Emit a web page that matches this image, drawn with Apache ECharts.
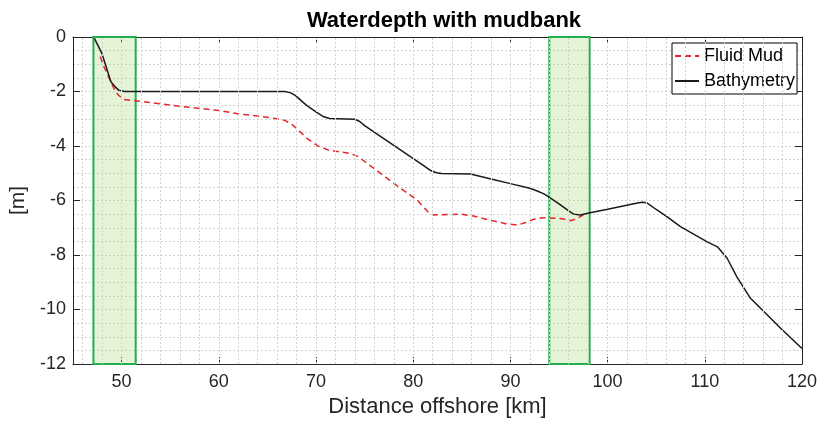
<!DOCTYPE html>
<html>
<head>
<meta charset="utf-8">
<script src="https://cdn.jsdelivr.net/npm/echarts@6/dist/echarts.min.js"></script>
<style>html,body{margin:0;padding:0;background:#fff}#c{width:820px;height:423px}</style>
</head>
<body>
<div id="c"></div>
<script>
// ---- data ----
var bathyX = [47.2, 47.95, 48.9, 49.4, 49.7, 50.3, 66.8, 67.4, 67.9, 69.0, 70.0, 70.8, 71.4, 74.0, 74.5, 75.0, 78.0, 81.0, 81.8, 82.4, 82.9, 85.9, 88.0, 90.0, 92.0, 92.7, 93.4, 93.9, 95.0, 96.0, 96.5, 97.2, 98.2, 100.0, 103.2, 103.6, 104.0, 105.0, 106.1, 107.5, 110.2, 111.3, 112.3, 113.3, 114.7, 116.1, 117.8, 120.0];
var bathyY = [-0.05, -0.58, -1.64, -1.85, -1.95, -2.0, -2.0, -2.05, -2.15, -2.5, -2.75, -2.93, -2.99, -3.02, -3.1, -3.25, -3.98, -4.7, -4.9, -4.98, -5.01, -5.03, -5.21, -5.38, -5.55, -5.64, -5.75, -5.86, -6.12, -6.38, -6.5, -6.53, -6.45, -6.32, -6.08, -6.06, -6.08, -6.33, -6.59, -6.96, -7.51, -7.7, -8.12, -8.8, -9.59, -10.08, -10.69, -11.43];
var mudX = [47.8, 48.2, 48.8, 49.3, 49.66, 50.2, 51.4, 55.0, 60.0, 62.2, 64.0, 66.0, 66.8, 67.5, 68.0, 69.0, 70.2, 71.3, 73.5, 74.3, 75.5, 77.0, 78.5, 80.4, 81.6, 82.1, 84.85, 86.2, 87.9, 89.5, 90.7, 91.5, 92.4, 93.4, 94.8, 95.5, 96.2, 96.8, 97.5];
var mudY = [-0.72, -1.1, -1.58, -1.95, -2.13, -2.29, -2.34, -2.5, -2.7, -2.83, -2.9, -3.0, -3.06, -3.2, -3.35, -3.7, -4.0, -4.15, -4.27, -4.38, -4.7, -5.1, -5.5, -5.98, -6.45, -6.53, -6.5, -6.57, -6.72, -6.85, -6.9, -6.82, -6.69, -6.63, -6.65, -6.68, -6.74, -6.67, -6.53];
var zones = [[47.1, 51.45], [94.0, 98.15]];
var xTickLabels = [50, 60, 70, 80, 90, 100, 110, 120];
var xGridValues = [46,48,50,52,54,56,58,60,62,64,66,68,70,72,74,76,78,80,82,84,86,88,90,92,94,96,98,100,102,104,106,108,110,112,114,116,118];
var seriesNames = ['Fluid Mud', 'Bathymetry'];
var titleText = 'Waterdepth with mudbank';
var xName = 'Distance offshore [km]';
var yName = '[m]';

function zip(a, b) { return a.map(function (v, i) { return [v, b[i]]; }); }

var FONT = "'Liberation Sans', Arial, Helvetica, sans-serif";
var AX = '#262626';
var GRID = { color: '#d2d2d2', width: 1, type: [2, 2] };

var chart = echarts.init(document.getElementById('c'), null, { renderer: 'canvas' });
chart.setOption({
  animation: false,
  backgroundColor: '#fff',
  textStyle: { fontFamily: FONT },
  title: {
    text: titleText, left: 439, top: 5, textAlign: 'center',
    textStyle: { fontFamily: FONT, fontSize: 22, fontWeight: 'bold', color: '#000' }
  },
  grid: { left: 73, right: 18, top: 37, bottom: 59, containLabel: false, outerBoundsMode: 'none' },
  legend: {
    data: seriesNames,
    orient: 'vertical', left: 672, top: 43,
    padding: [2, 2, 2, 2], itemGap: 3, itemWidth: 24, itemHeight: 14,
    borderColor: '#000', borderWidth: 1, backgroundColor: '#fff',
    itemStyle: { opacity: 0 },
    textStyle: { fontFamily: FONT, fontSize: 18, color: '#000', lineHeight: 22 }
  },
  xAxis: [
    {
      type: 'value', min: 45, max: 120, position: 'bottom',
      name: xName, nameLocation: 'middle', nameGap: 32,
      nameTextStyle: { fontFamily: FONT, fontSize: 22, color: '#262626' },
      axisLine: { show: true, onZero: false, lineStyle: { color: AX, width: 1 } },
      axisTick: { show: true, inside: true, length: 7, customValues: xTickLabels, lineStyle: { color: AX } },
      axisLabel: { show: true, margin: 9, customValues: xTickLabels, fontFamily: FONT, fontSize: 18, color: '#262626' },
      splitLine: { show: false }
    },
    { // top box axis
      type: 'value', min: 45, max: 120, position: 'top',
      axisLine: { show: true, onZero: false, lineStyle: { color: AX, width: 1 } },
      axisTick: { show: true, inside: true, length: 7, customValues: xTickLabels, lineStyle: { color: AX } },
      axisLabel: { show: false },
      splitLine: { show: false }
    }
  ],
  yAxis: [
    {
      type: 'value', min: -12, max: 0, interval: 2, position: 'left',
      name: yName, nameLocation: 'middle', nameGap: 40,
      nameTextStyle: { fontFamily: FONT, fontSize: 21, color: '#262626' },
      axisLine: { show: true, onZero: false, lineStyle: { color: AX, width: 1 } },
      axisTick: { show: true, inside: true, length: 7, lineStyle: { color: AX } },
      axisLabel: { show: true, margin: 7, fontFamily: FONT, fontSize: 18, color: '#262626' },
      splitLine: { show: true, lineStyle: GRID },
      minorTick: { show: false, splitNumber: 4 },
      minorSplitLine: { show: true, lineStyle: GRID }
    },
    {
      type: 'value', min: -12, max: 0, interval: 2, position: 'right',
      axisLine: { show: true, onZero: false, lineStyle: { color: AX, width: 1 } },
      axisTick: { show: true, inside: true, length: 7, lineStyle: { color: AX } },
      axisLabel: { show: false },
      splitLine: { show: false }
    }
  ],
  series: [
    {
      name: 'grid', type: 'line', data: [], z: 1, silent: true,
      markLine: {
        silent: true, symbol: ['none', 'none'], animation: false,
        label: { show: false },
        lineStyle: GRID,
        emphasis: { disabled: true },
        data: xGridValues.map(function (v) { return { xAxis: v }; })
      }
    },
    {
      name: seriesNames[0], type: 'line',
      data: zip(mudX, mudY), showSymbol: false, symbol: 'none',
      smooth: false,
      lineStyle: { color: '#e8262e', width: 1.5, type: [6, 4] },
      itemStyle: { color: '#e8262e' },
      z: 3
    },
    {
      name: seriesNames[1], type: 'line',
      data: zip(bathyX, bathyY), showSymbol: false, symbol: 'none',
      smooth: false,
      lineStyle: { color: '#1a1a1a', width: 1.5 },
      itemStyle: { color: '#1a1a1a' },
      z: 4
    },
    {
      name: 'zones', type: 'line', data: [], z: 5,
      markArea: {
        silent: true,
        itemStyle: { color: 'rgba(170,215,120,0.3)', borderColor: '#22b04f', borderWidth: 2 },
        data: zones.map(function (z) { return [{ xAxis: z[0], yAxis: 0 }, { xAxis: z[1], yAxis: -12 }]; })
      }
    }
  ]
});
</script>
</body>
</html>
